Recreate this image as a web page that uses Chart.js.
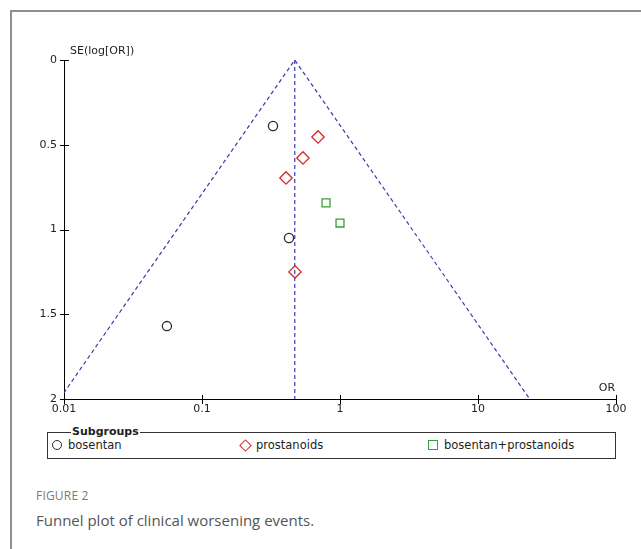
<!DOCTYPE html>
<html>
<head>
<meta charset="utf-8">
<title>Funnel plot of clinical worsening events</title>
<script src="https://cdn.jsdelivr.net/npm/chart.js@4/dist/chart.umd.min.js"></script>
<style>
  html, body { margin: 0; padding: 0; background: #fff; }
  #page { position: relative; width: 641px; height: 549px; overflow: hidden; background: #fff; }
  #frame { position: absolute; left: 10px; top: 10px; width: 700px; height: 600px;
           border-left: 2px solid #8e8e8e; border-top: 2px solid #8e8e8e; }
  #plot { position: absolute; left: 0; top: 0; width: 641px; height: 425px; }
  #legend { position: absolute; left: 47px; top: 432px; width: 567px; height: 25px;
            border: 1px solid #333; font: 11.5px "DejaVu Sans", sans-serif; color: #222; }
  #legend .title { position: absolute; left: 23px; top: -8px; background: #fff; padding: 0 1px;
                   font-weight: bold; font-size: 11px; line-height: 14px; }
  #legend .item { position: absolute; top: 5px; line-height: 14px; white-space: nowrap; }
  #legend .sym { position: absolute; box-sizing: border-box; }
  #caption { position: absolute; left: 36px; top: 486px; font-family: "Open Sans", sans-serif; }
  #caption .fig { font-size: 12px; color: #7a7a7a; letter-spacing: 0.2px; line-height: 20px; }
  #caption .txt { font-size: 15px; color: #555; line-height: 24px; margin-top: 2px; }
</style>
</head>
<body>
<div id="page">
  <div id="frame"></div>
  <canvas id="plot" width="641" height="425"></canvas>
  <div id="legend"><span class="title">Subgroups</span></div>
  <div id="caption">
    <div class="fig">FIGURE 2</div>
    <div class="txt">Funnel plot of clinical worsening events.</div>
  </div>
</div>
<script>
// Study estimates: odds ratio and standard error of log(OR), by subgroup
const bosentanOR = [0.327, 0.427, 0.0557];
const bosentanSE = [0.389, 1.05, 1.57];
const prostanoidsOR = [0.693, 0.539, 0.406, 0.472];
const prostanoidsSE = [0.454, 0.578, 0.696, 1.25];
const comboOR = [0.792, 1.0];
const comboSE = [0.843, 0.962];

// Pooled estimate and the 95% pseudo-confidence funnel (bottom-left, apex, bottom-right)
const pooledOR = 0.47;
const funnelOR = [0.0093, 0.47, 23.7];
const funnelSE = [2, 0, 2];

// Axis ticks
const xTicks = [0.01, 0.1, 1, 10, 100];
const xTickLabels = ['0.01', '0.1', '1', '10', '100'];
const yTicks = [0, 0.5, 1, 1.5, 2];
const yTickLabels = ['0', '0.5', '1', '1.5', '2'];

const subgroupNames = ['bosentan', 'prostanoids', 'bosentan+prostanoids'];

const pairs = (xs, ys) => xs.map((x, i) => ({ x: x, y: ys[i] }));

const FONT = { family: '"DejaVu Sans", sans-serif', size: 11 };
const lineBlue = '#3b3bb0';

// Tick marks crossing each axis, plus the axis titles
const axisDecor = {
  id: 'axisDecor',
  afterDraw(chart) {
    const { ctx, chartArea: a, scales } = chart;
    ctx.save();
    ctx.strokeStyle = '#000';
    ctx.lineWidth = 1;
    ctx.beginPath();
    xTicks.forEach(v => {
      const px = Math.round(scales.x.getPixelForValue(v)) + 0.5;
      ctx.moveTo(px, a.bottom - 4); ctx.lineTo(px, a.bottom + 5);
    });
    yTicks.forEach(v => {
      const py = Math.round(scales.y.getPixelForValue(v)) + 0.5;
      ctx.moveTo(a.left - 4, py); ctx.lineTo(a.left + 5, py);
    });
    ctx.stroke();
    ctx.fillStyle = '#222';
    ctx.font = '11px "DejaVu Sans", sans-serif';
    ctx.textBaseline = 'middle';
    ctx.textAlign = 'left';
    ctx.fillText('SE(log[OR])', a.left + 6, a.top - 9);
    ctx.textAlign = 'center';
    ctx.fillText('OR', a.right - 9, a.bottom - 11);
    ctx.restore();
  }
};

const chart = new Chart(document.getElementById('plot'), {
  type: 'scatter',
  data: {
    datasets: [
      {
        label: 'funnel', type: 'line', data: pairs(funnelOR, funnelSE),
        borderColor: lineBlue, borderWidth: 1.2, borderDash: [4, 3],
        pointRadius: 0, fill: false, tension: 0, order: 5
      },
      {
        label: 'pooled', type: 'line', data: pairs([pooledOR, pooledOR], [0, 2]),
        borderColor: lineBlue, borderWidth: 1.2, borderDash: [4, 3],
        pointRadius: 0, fill: false, tension: 0, order: 5
      },
      {
        label: subgroupNames[0], data: pairs(bosentanOR, bosentanSE),
        pointStyle: 'circle', pointRadius: 4.6, borderWidth: 1.3,
        borderColor: '#2a2a2a', backgroundColor: 'rgba(0,0,0,0)', order: 1
      },
      {
        label: subgroupNames[1], data: pairs(prostanoidsOR, prostanoidsSE),
        pointStyle: 'rectRot', pointRadius: 6.2, borderWidth: 1.3,
        borderColor: '#d42b2b', backgroundColor: 'rgba(0,0,0,0)', order: 1
      },
      {
        label: subgroupNames[2], data: pairs(comboOR, comboSE),
        pointStyle: 'rect', pointRadius: 5.6, borderWidth: 1.3,
        borderColor: '#2fa32f', backgroundColor: 'rgba(0,0,0,0)', order: 1
      }
    ]
  },
  options: {
    responsive: false,
    animation: false,
    events: [],
    layout: { padding: { top: 60, right: 25, left: 0, bottom: 0 } },
    plugins: { legend: { display: false }, tooltip: { enabled: false } },
    scales: {
      x: {
        type: 'logarithmic', min: 0.01, max: 100,
        grid: { display: false, drawTicks: false },
        border: { display: true, color: '#000', width: 1 },
        afterBuildTicks: s => { s.ticks = xTicks.map(v => ({ value: v })); },
        afterFit: s => { s.height = 26; },
        ticks: {
          autoSkip: false, maxRotation: 0, padding: 4, color: '#222', font: FONT,
          callback: v => xTickLabels[xTicks.indexOf(v)]
        }
      },
      y: {
        type: 'linear', min: 0, max: 2, reverse: true,
        grid: { display: false, drawTicks: false },
        border: { display: true, color: '#000', width: 1 },
        afterBuildTicks: s => { s.ticks = yTicks.map(v => ({ value: v })); },
        afterFit: s => { s.width = 64; },
        ticks: {
          autoSkip: false, padding: 7, color: '#222', font: FONT,
          callback: v => yTickLabels[yTicks.indexOf(v)]
        }
      }
    }
  },
  plugins: [axisDecor]
});

// Legend box built from the subgroup datasets' own marker styles
const legend = document.getElementById('legend');
const itemLeft = [20, 208, 396];
const symCenter = [9, 197, 385];
chart.data.datasets.slice(2).forEach((ds, i) => {
  const sym = document.createElement('span');
  sym.className = 'sym';
  sym.style.borderStyle = 'solid';
  sym.style.borderColor = ds.borderColor;
  let size = 10;
  if (ds.pointStyle === 'circle') {
    Object.assign(sym.style, { borderRadius: '50%', borderWidth: '1.3px' });
  } else if (ds.pointStyle === 'rectRot') {
    size = 9;
    Object.assign(sym.style, { transform: 'rotate(45deg)', borderWidth: '1.5px' });
  } else {
    Object.assign(sym.style, { borderWidth: '1.3px' });
  }
  Object.assign(sym.style, {
    width: size + 'px', height: size + 'px',
    left: (symCenter[i] - size / 2) + 'px', top: (12 - size / 2) + 'px'
  });
  legend.appendChild(sym);
  const item = document.createElement('span');
  item.className = 'item';
  item.style.left = itemLeft[i] + 'px';
  item.textContent = ds.label;
  legend.appendChild(item);
});
</script>
</body>
</html>
